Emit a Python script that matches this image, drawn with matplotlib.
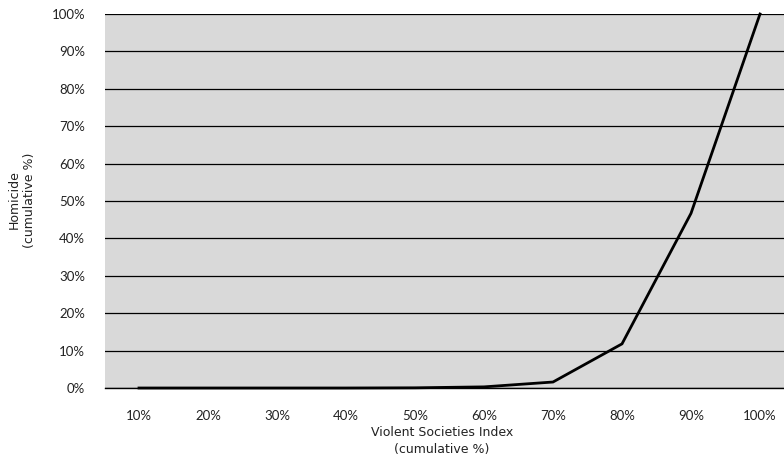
import matplotlib
matplotlib.use("Agg")
import matplotlib.pyplot as plt
from matplotlib.ticker import FuncFormatter

# cumulative share of the Violent Societies Index (x categories)
categories = ["10%", "20%", "30%", "40%", "50%", "60%", "70%", "80%", "90%", "100%"]
# cumulative share of homicide, in %
homicide = [0.0, 0.0, 0.0, 0.0, 0.05, 0.3, 1.6, 11.8, 46.7, 100.0]
y_ticks = list(range(0, 101, 10))

fig = plt.figure(figsize=(7.84, 4.63), dpi=100)
ax = fig.add_axes([104.5 / 784, 75 / 463, 690 / 784, 374 / 463])
ax.set_facecolor("#d9d9d9")

x = list(range(len(categories)))
ax.plot(x, homicide, color="black", lw=2.0, solid_joinstyle="miter", zorder=3, clip_on=False)

ax.set_xlim(-0.5, len(categories) - 0.5)
ax.set_ylim(0, 100)
ax.set_xticks(x)
ax.set_xticklabels(categories)
ax.set_yticks(y_ticks)
ax.yaxis.set_major_formatter(FuncFormatter(lambda v, p: "%d%%" % v))
ax.grid(axis="y", color="black", lw=0.9)
ax.set_axisbelow(True)

for s in ["left", "right", "top"]:
    ax.spines[s].set_visible(False)
ax.spines["bottom"].set_color("black")
ax.spines["bottom"].set_linewidth(1.0)

for lbl in ax.get_xticklabels() + ax.get_yticklabels():
    lbl.set_fontfamily("Lato")
    lbl.set_fontsize(9.5)
    lbl.set_color("#222222")
ax.tick_params(axis="both", length=0)
ax.tick_params(axis="y", pad=14)
ax.tick_params(axis="x", pad=16)

fig.text(442 / 784, 1 - 441 / 463, "Violent Societies Index\n(cumulative %)",
         ha="center", va="center", fontsize=9, color="#222222",
         family="DejaVu Sans", linespacing=1.3)
fig.text(22 / 784, 1 - 200 / 463, "Homicide\n(cumulative %)", rotation=90,
         ha="center", va="center", fontsize=9, color="#222222",
         family="DejaVu Sans", linespacing=1.3)

fig.savefig("out.png", dpi=100)
